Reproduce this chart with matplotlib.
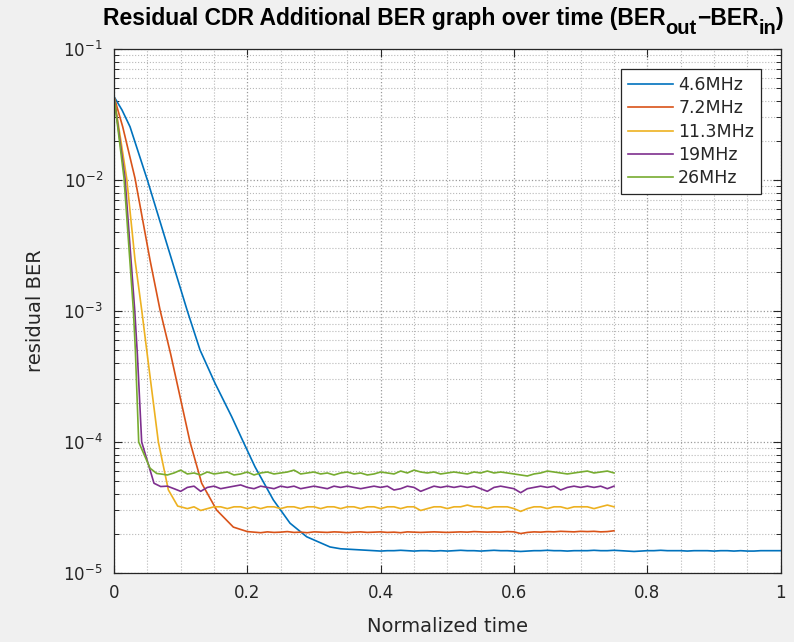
import numpy as np
import matplotlib
matplotlib.use('Agg')
import matplotlib.pyplot as plt
from matplotlib.ticker import MultipleLocator, LogLocator, NullFormatter, FuncFormatter

plt.rcParams['font.family'] = ['DejaVu Sans']

# ---- data ----
labels = ['4.6MHz', '7.2MHz', '11.3MHz', '19MHz', '26MHz']
colors = ['#0072BD', '#D95319', '#EDB120', '#7E2F8E', '#77AC30']

# decay parts (time, residual BER)
blue_t = [0, 0.012, 0.024, 0.05, 0.08, 0.11, 0.129, 0.1515, 0.1765, 0.194,
          0.2115, 0.239, 0.264, 0.289, 0.324]
blue_v = [4.33e-2, 3.42e-2, 2.55e-2, 1.0e-2, 3.16e-3, 1.0e-3, 5.04e-4, 2.81e-4,
          1.56e-4, 1.0e-4, 6.46e-5, 3.61e-5, 2.40e-5, 1.89e-5, 1.58e-5]
orange_t = [0, 0.013, 0.0315, 0.054, 0.069, 0.085, 0.114, 0.1315, 0.154, 0.179, 0.2]
orange_v = [4.33e-2, 2.55e-2, 1.03e-2, 2.45e-3, 1.02e-3, 4.68e-4, 1.0e-4, 4.84e-5,
            3.02e-5, 2.24e-5, 2.07e-5]
yellow_t = [0, 0.019, 0.0315, 0.0415, 0.049, 0.0665, 0.0815, 0.0955]
yellow_v = [4.33e-2, 1.03e-2, 2.45e-3, 1.02e-3, 5.04e-4, 1.0e-4, 4.31e-5, 3.24e-5]
purple_t = [0, 0.0165, 0.031, 0.035, 0.0415, 0.06, 0.07]
purple_v = [4.33e-2, 1.03e-2, 1.02e-3, 4.68e-4, 1.0e-4, 4.84e-5, 4.57e-5]
green_t = [0, 0.015, 0.029, 0.032, 0.037, 0.054, 0.064]
green_v = [4.33e-2, 1.03e-2, 1.02e-3, 5.04e-4, 1.0e-4, 6.31e-5, 5.75e-5]

# steady-state parts, sampled every 0.01 (units of 1e-5)
blue_flat_start, blue_flat_end = 0.34, 1.00
blue_flat = [1.53, 1.52, 1.51, 1.50, 1.49, 1.48, 1.47, 1.48, 1.48, 1.49,
             1.48, 1.47, 1.48, 1.48, 1.47, 1.48, 1.47, 1.48, 1.49, 1.48,
             1.48, 1.47, 1.48, 1.49, 1.48, 1.48, 1.47, 1.46, 1.47, 1.48,
             1.48, 1.49, 1.48, 1.48, 1.47, 1.48, 1.48, 1.48, 1.49, 1.48,
             1.48, 1.49, 1.48, 1.47, 1.46, 1.47, 1.48, 1.48, 1.49, 1.48,
             1.48, 1.48, 1.47, 1.48, 1.48, 1.48, 1.47, 1.48, 1.48, 1.47,
             1.48, 1.47, 1.47, 1.48, 1.48, 1.48, 1.48]
orange_flat_start, orange_flat_end = 0.21, 0.75
orange_flat = [2.05, 2.03, 2.06, 2.04, 2.05, 2.07, 2.04, 2.05, 2.03, 2.06,
               2.05, 2.04, 2.06, 2.05, 2.03, 2.05, 2.06, 2.04, 2.05, 2.06,
               2.04, 2.05, 2.03, 2.06, 2.05, 2.04, 2.05, 2.06, 2.05, 2.04,
               2.05, 2.06, 2.05, 2.07, 2.06, 2.05, 2.06, 2.05, 2.07, 2.06,
               2.00, 2.04, 2.06, 2.05, 2.07, 2.06, 2.08, 2.07, 2.06, 2.08,
               2.07, 2.08, 2.06, 2.07, 2.10]
yellow_flat_start, yellow_flat_end = 0.10, 0.75
yellow_flat = [3.20, 3.10, 3.20, 3.00, 3.10, 3.20, 3.20, 3.10, 3.20, 3.20,
               3.10, 3.20, 3.10, 3.20, 3.20, 3.10, 3.20, 3.20, 3.10, 3.20,
               3.20, 3.10, 3.20, 3.20, 3.10, 3.20, 3.20, 3.10, 3.20, 3.20,
               3.10, 3.20, 3.20, 3.10, 3.20, 3.20, 3.00, 3.10, 3.20, 3.20,
               3.10, 3.20, 3.20, 3.30, 3.20, 3.20, 3.10, 3.20, 3.20, 3.20,
               3.10, 2.95, 3.10, 3.20, 3.20, 3.10, 3.20, 3.20, 3.10, 3.20,
               3.20, 3.20, 3.10, 3.20, 3.30, 3.20]
purple_flat_start, purple_flat_end = 0.08, 0.75
purple_flat = [4.6, 4.4, 4.2, 4.5, 4.6, 4.2, 4.5, 4.6, 4.4, 4.5,
               4.6, 4.7, 4.5, 4.4, 4.6, 4.5, 4.4, 4.6, 4.5, 4.6,
               4.4, 4.5, 4.6, 4.5, 4.4, 4.6, 4.5, 4.6, 4.5, 4.4,
               4.5, 4.6, 4.5, 4.6, 4.3, 4.4, 4.6, 4.5, 4.2, 4.4,
               4.6, 4.5, 4.6, 4.5, 4.6, 4.5, 4.6, 4.4, 4.2, 4.5,
               4.6, 4.5, 4.4, 4.1, 4.4, 4.5, 4.6, 4.5, 4.6, 4.3,
               4.5, 4.6, 4.5, 4.6, 4.5, 4.6, 4.4, 4.6]
green_flat_start, green_flat_end = 0.07, 0.75
green_flat = [5.7, 5.6, 5.8, 6.1, 5.7, 5.8, 5.6, 5.9, 5.7, 5.8,
              5.9, 5.6, 5.7, 5.9, 5.6, 5.8, 5.9, 5.7, 5.8, 5.9,
              6.1, 5.7, 5.8, 5.9, 5.7, 5.8, 5.6, 5.8, 5.9, 5.7,
              5.8, 5.6, 5.7, 5.9, 5.8, 5.7, 6.0, 5.8, 6.1, 5.9,
              5.8, 5.9, 5.7, 5.8, 5.9, 5.8, 5.7, 5.9, 5.8, 6.0,
              5.8, 5.9, 5.8, 5.7, 5.6, 5.5, 5.7, 5.8, 6.0, 5.9,
              5.8, 5.7, 5.8, 5.9, 6.0, 5.8, 5.9, 6.0, 5.8]

# title pieces: (text, subscript?)
title_parts = [('Residual CDR Additional BER graph over time (BER', False),
               ('out', True), ('\u2212BER', False), ('in', True), (')', False)]


def build(t_dec, v_dec, start, end, flat):
    t_flat = np.round(np.arange(start, end + 0.001, 0.01), 2)
    assert len(t_flat) == len(flat)
    t = np.concatenate([t_dec, t_flat])
    v = np.concatenate([v_dec, np.array(flat) * 1e-5])
    return t, v


series = [
    build(blue_t, blue_v, blue_flat_start, blue_flat_end, blue_flat),
    build(orange_t, orange_v, orange_flat_start, orange_flat_end, orange_flat),
    build(yellow_t, yellow_v, yellow_flat_start, yellow_flat_end, yellow_flat),
    build(purple_t, purple_v, purple_flat_start, purple_flat_end, purple_flat),
    build(green_t, green_v, green_flat_start, green_flat_end, green_flat),
]

# ---- figure ----
W, H = 794, 642
fig = plt.figure(figsize=(W / 100, H / 100), dpi=100)
fig.patch.set_facecolor('#f0f0f0')
ax = fig.add_axes([0.1436, 0.1075, 0.8396, 0.8162])
ax.set_facecolor('white')

for (t, v), c, lab in zip(series, colors, labels):
    ax.plot(t, v, color=c, lw=1.2, label=lab)

ax.set_yscale('log')
ax.set_xlim(0, 1)
ax.set_ylim(1e-5, 1e-1)
ax.xaxis.set_major_locator(MultipleLocator(0.2))
ax.xaxis.set_minor_locator(MultipleLocator(0.05))
ax.xaxis.set_major_formatter(FuncFormatter(lambda x, pos: f'{x:g}'))
ax.yaxis.set_major_locator(LogLocator(base=10, numticks=10))
ax.yaxis.set_minor_locator(LogLocator(base=10, subs=np.arange(2, 10), numticks=20))
ax.yaxis.set_minor_formatter(NullFormatter())

ax.grid(True, which='major', linestyle=':', color='#9a9a9a', linewidth=0.9)
ax.grid(True, which='minor', linestyle=':', color='#b8b8b8', linewidth=0.8)

for sp in ax.spines.values():
    sp.set_color('#262626')
    sp.set_linewidth(0.9)
ax.tick_params(which='both', direction='in', top=True, right=True, colors='#262626',
               labelcolor='#262626', labelsize=12)
ax.tick_params(which='major', length=6, width=0.8, pad=8)
ax.tick_params(which='minor', length=3.5, width=0.7)
ax.tick_params(axis='x', which='minor', length=0)

ax.set_xlabel('Normalized time', fontsize=14, color='#262626')
ax.set_ylabel('residual BER', fontsize=14, color='#262626')
ax.xaxis.set_label_coords(0.5, -0.084)
ax.yaxis.set_label_coords(-0.103, 0.5)

leg = ax.legend(loc='upper right', bbox_to_anchor=(761 / W, 1 - 69.3 / H),
                bbox_transform=fig.transFigure, borderaxespad=0, fontsize=12.5,
                handlelength=2.6, handletextpad=0.3, labelspacing=0.3,
                borderpad=0.4, fancybox=False, framealpha=1)
leg.get_frame().set_edgecolor('#262626')
leg.get_frame().set_linewidth(0.9)
for txt in leg.get_texts():
    txt.set_color('#262626')

# title drawn piece by piece so the subscripts sit low, MATLAB style
fig.canvas.draw()
renderer = fig.canvas.get_renderer()
x_px, base_px = 103, 25
for txt, sub in title_parts:
    y_px = base_px + (9 if sub else 0)
    t = fig.text(x_px / W, 1 - y_px / H, txt, fontsize=14.5 if sub else 16.5,
                 fontweight='bold', family='Liberation Sans', color='black',
                 ha='left', va='baseline')
    x_px += t.get_window_extent(renderer).width

fig.savefig('out.png', dpi=100, facecolor=fig.get_facecolor())
